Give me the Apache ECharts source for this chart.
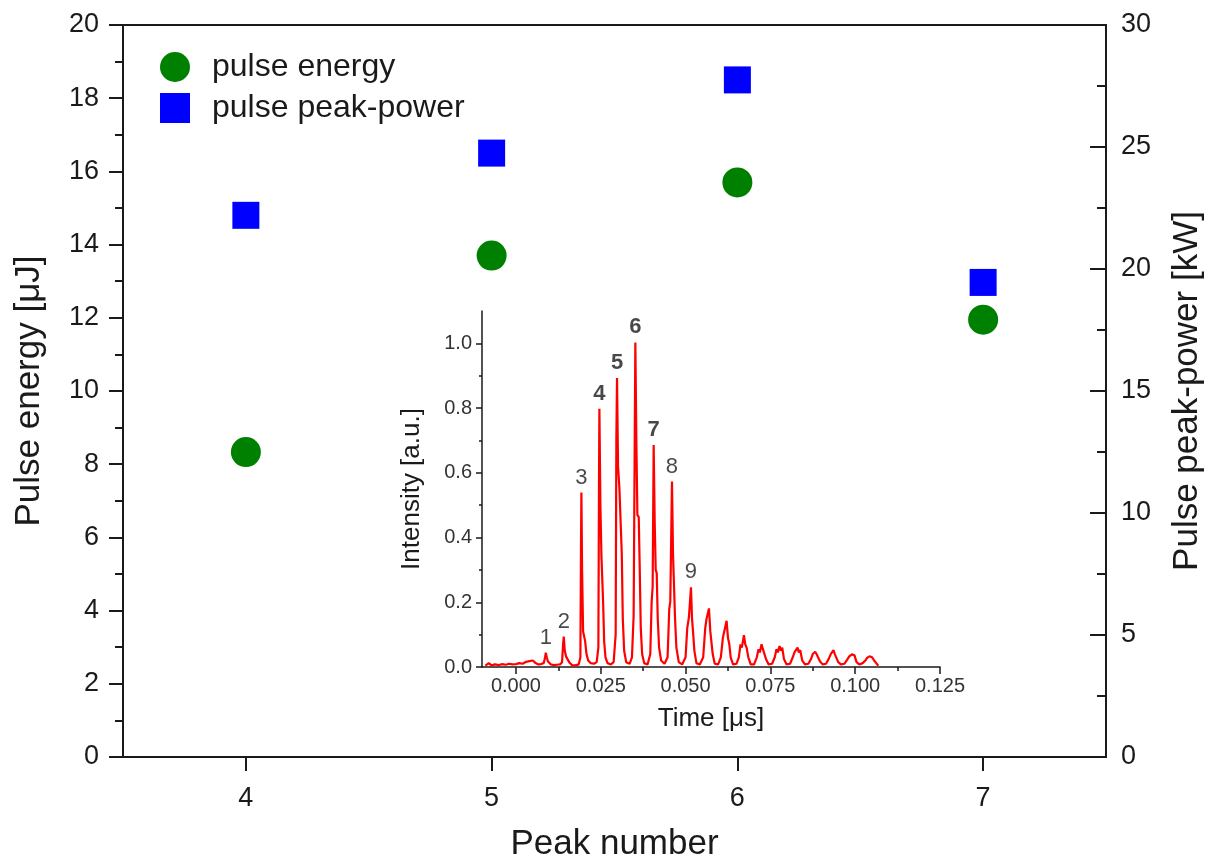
<!DOCTYPE html>
<html>
<head>
<meta charset="utf-8">
<title>Pulse energy and peak power vs peak number</title>
<script src="https://cdn.jsdelivr.net/npm/echarts@6/dist/echarts.min.js"></script>
<style>
  html, body { margin: 0; padding: 0; background: #fff; }
  #chart { width: 1210px; height: 863px; }
</style>
</head>
<body>
<div id="chart"></div>
<script>
// Main plot: pulse energy (left axis) and pulse peak power (right axis) per peak number
const peakNumbers = [4, 5, 6, 7];
const pulseEnergy = [8.33, 13.7, 15.7, 11.95];      // μJ
const pulsePeakPower = [22.2, 24.75, 27.75, 19.45]; // kW

const mainXTicks = [4, 5, 6, 7];

// Inset: intensity trace of the pulse train, [time μs, intensity a.u.]
const intensityTrace = [
  [-0.0090,0.004],[-0.0080,0.012],[-0.0072,0.005],[-0.0062,0.008],[-0.0050,0.006],[-0.0040,0.009],
  [-0.0030,0.007],[-0.0020,0.010],[-0.0010,0.008],[0.0000,0.009],[0.0010,0.012],[0.0020,0.010],
  [0.0030,0.016],[0.0040,0.018],[0.0050,0.020],[0.0058,0.012],[0.0066,0.008],[0.0074,0.009],[0.0082,0.012],
  [0.0086,0.030],[0.0088,0.044],[0.0091,0.030],[0.0094,0.018],[0.0098,0.014],[0.0103,0.008],[0.0110,0.006],
  [0.0120,0.007],[0.0130,0.008],[0.0136,0.015],
  [0.0139,0.070],[0.0141,0.094],[0.0144,0.050],[0.0148,0.032],[0.0152,0.030],[0.0157,0.015],[0.0165,0.006],
  [0.0175,0.005],[0.0185,0.008],[0.0190,0.030],
  [0.0192,0.400],[0.0193,0.539],[0.0195,0.300],[0.0198,0.110],[0.0201,0.105],[0.0204,0.080],[0.0208,0.040],
  [0.0213,0.020],[0.0220,0.012],[0.0230,0.010],[0.0238,0.015],[0.0243,0.060],
  [0.0245,0.600],[0.0246,0.798],[0.0249,0.500],[0.0252,0.345],[0.0255,0.340],[0.0257,0.200],[0.0260,0.080],
  [0.0264,0.030],[0.0270,0.012],[0.0280,0.008],[0.0288,0.015],[0.0294,0.100],
  [0.0296,0.700],[0.0298,0.893],[0.0301,0.620],[0.0305,0.553],[0.0309,0.550],[0.0312,0.350],[0.0315,0.150],
  [0.0319,0.050],[0.0325,0.015],[0.0335,0.010],[0.0342,0.030],[0.0347,0.160],
  [0.0350,0.670],[0.0352,1.003],[0.0355,0.700],[0.0358,0.470],[0.0362,0.463],[0.0365,0.300],[0.0368,0.120],
  [0.0372,0.040],[0.0378,0.012],[0.0388,0.008],[0.0396,0.040],[0.0400,0.200],[0.0403,0.248],
  [0.0406,0.686],[0.0409,0.450],[0.0412,0.300],[0.0415,0.290],[0.0418,0.150],[0.0422,0.060],[0.0428,0.020],
  [0.0438,0.010],[0.0447,0.030],[0.0452,0.180],[0.0455,0.202],
  [0.0460,0.573],[0.0463,0.350],[0.0466,0.250],[0.0469,0.150],[0.0473,0.060],[0.0480,0.015],[0.0490,0.008],
  [0.0500,0.030],[0.0505,0.120],[0.0510,0.155],
  [0.0516,0.246],[0.0519,0.150],[0.0522,0.110],[0.0526,0.050],[0.0532,0.012],[0.0542,0.008],[0.0552,0.030],
  [0.0558,0.120],[0.0562,0.150],
  [0.0569,0.181],[0.0573,0.110],[0.0576,0.080],[0.0580,0.040],[0.0586,0.010],[0.0596,0.008],[0.0604,0.030],
  [0.0610,0.090],[0.0614,0.110],
  [0.0621,0.143],[0.0625,0.090],[0.0629,0.070],[0.0633,0.030],[0.0640,0.008],[0.0650,0.010],[0.0657,0.030],
  [0.0662,0.070],[0.0666,0.060],
  [0.0672,0.098],[0.0676,0.070],[0.0680,0.060],[0.0685,0.030],[0.0692,0.008],[0.0702,0.008],[0.0710,0.030],
  [0.0715,0.055],[0.0719,0.045],
  [0.0724,0.070],[0.0728,0.055],[0.0732,0.060],[0.0737,0.025],[0.0745,0.008],[0.0755,0.010],[0.0763,0.030],
  [0.0768,0.055],[0.0772,0.045],
  [0.0777,0.065],[0.0781,0.050],[0.0785,0.060],[0.0790,0.025],[0.0798,0.008],[0.0808,0.010],[0.0816,0.030],
  [0.0821,0.045],[0.0825,0.040],
  [0.0830,0.060],[0.0834,0.045],[0.0838,0.052],[0.0844,0.020],[0.0852,0.008],[0.0862,0.010],[0.0870,0.025],
  [0.0875,0.040],[0.0879,0.035],
  [0.0882,0.047],[0.0886,0.040],[0.0890,0.044],[0.0896,0.018],[0.0904,0.008],[0.0914,0.010],[0.0922,0.025],
  [0.0928,0.040],[0.0932,0.035],
  [0.0936,0.052],[0.0940,0.040],[0.0944,0.042],[0.0950,0.015],[0.0958,0.008],[0.0968,0.010],[0.0976,0.022],
  [0.0982,0.032],[0.0986,0.030],
  [0.0990,0.039],[0.0994,0.035],[0.0998,0.036],[0.1004,0.015],[0.1012,0.008],[0.1022,0.012],[0.1030,0.020],
  [0.1035,0.028],[0.1039,0.025],
  [0.1042,0.033],[0.1046,0.028],[0.1050,0.030],[0.1056,0.020],[0.1062,0.012],[0.1068,0.004]
];

// Numbered peaks of the trace (bold ones are the peaks plotted in the main chart)
const peakLabels = ['1', '2', '3', '4', '5', '6', '7', '8', '9'];
const peakTimes  = [0.0088, 0.0141, 0.0193, 0.0246, 0.0298, 0.0352, 0.0406, 0.0460, 0.0516];
const peakValues = [0.044, 0.094, 0.539, 0.798, 0.893, 1.003, 0.686, 0.573, 0.246];
const peakBold   = [false, false, false, true, true, true, true, false, false];

const insetXMajor = [0, 0.025, 0.05, 0.075, 0.1, 0.125];
const insetXMinor = [0.0125, 0.0375, 0.0625, 0.0875, 0.1125];
const insetYMajor = [0, 0.2, 0.4, 0.6, 0.8, 1.0];
const insetYMinor = [0.1, 0.3, 0.5, 0.7, 0.9];

const FONT = '"Liberation Sans", Arial, Helvetica, sans-serif';
const INK = '#1a1a1a';

const chart = echarts.init(document.getElementById('chart'), null, { renderer: 'canvas' });

const axisLine = { show: true, onZero: false, lineStyle: { color: INK, width: 2 } };

chart.setOption({
  animation: false,
  backgroundColor: '#ffffff',
  textStyle: { fontFamily: FONT, color: INK },
  grid: [
    { left: 123, top: 25, right: 104, bottom: 106, show: true, borderColor: INK, borderWidth: 2,
      containLabel: false, outerBoundsMode: 'none' },
    { left: 482, top: 311, right: 270, bottom: 196, containLabel: false, outerBoundsMode: 'none' }
  ],
  legend: {
    orient: 'vertical',
    left: 155,
    top: 46,
    itemWidth: 30,
    itemHeight: 30,
    itemGap: 9,
    textStyle: { fontFamily: FONT, fontSize: 32, color: INK, padding: [0, 0, 0, 17] },
    data: [
      { name: 'pulse energy', icon: 'circle' },
      { name: 'pulse peak-power', icon: 'rect' }
    ]
  },
  xAxis: [
    {
      type: 'value', gridIndex: 0, min: 3.5, max: 7.5, position: 'bottom',
      name: 'Peak number', nameLocation: 'middle', nameGap: 70,
      nameTextStyle: { fontSize: 35, color: INK, fontFamily: FONT },
      axisLine: axisLine,
      axisTick: { show: true, length: 14, lineStyle: { color: INK, width: 2 }, customValues: mainXTicks },
      axisLabel: { fontSize: 27, color: INK, margin: 28, customValues: mainXTicks },
      splitLine: { show: false }
    },
    {
      type: 'value', gridIndex: 1, min: -0.01, max: 0.125, position: 'bottom',
      name: 'Time [μs]', nameLocation: 'middle', nameGap: 39,
      nameTextStyle: { fontSize: 26, color: INK, fontFamily: FONT },
      axisLine: { show: true, onZero: false, lineStyle: { color: INK, width: 1.5 } },
      axisTick: { show: true, length: 7, lineStyle: { color: INK, width: 1.5 }, customValues: insetXMajor },
      axisLabel: { fontSize: 20, color: '#333', margin: 9, customValues: insetXMajor,
        formatter: v => v.toFixed(3) },
      splitLine: { show: false }
    },
    {
      // minor ticks of the inset time axis
      type: 'value', gridIndex: 1, min: -0.01, max: 0.125, position: 'bottom',
      axisLine: { show: false, onZero: false },
      axisTick: { show: true, length: 4, lineStyle: { color: INK, width: 1.5 }, customValues: insetXMinor },
      axisLabel: { show: false, customValues: insetXMinor },
      splitLine: { show: false }
    }
  ],
  yAxis: [
    {
      type: 'value', gridIndex: 0, min: 0, max: 20, interval: 2, position: 'left',
      name: 'Pulse energy [μJ]', nameLocation: 'middle', nameGap: 76,
      nameTextStyle: { fontSize: 35, color: INK, fontFamily: FONT },
      axisLine: axisLine,
      axisTick: { show: true, length: 14, lineStyle: { color: INK, width: 2 } },
      minorTick: { show: true, splitNumber: 2, length: 8, lineStyle: { color: INK, width: 2 } },
      axisLabel: { fontSize: 27, color: INK, margin: 24 },
      splitLine: { show: false }
    },
    {
      type: 'value', gridIndex: 0, min: 0, max: 30, interval: 5, position: 'right',
      name: 'Pulse peak-power [kW]', nameLocation: 'middle', nameGap: 64,
      nameTextStyle: { fontSize: 35, color: INK, fontFamily: FONT },
      axisLine: axisLine,
      axisTick: { show: true, inside: true, length: 16, lineStyle: { color: INK, width: 2 } },
      minorTick: { show: true, splitNumber: 2, length: 9, lineStyle: { color: INK, width: 2 } },
      axisLabel: { fontSize: 27, color: INK, margin: 15 },
      splitLine: { show: false }
    },
    {
      type: 'value', gridIndex: 1, min: 0, max: 1.1, position: 'left',
      name: 'Intensity [a.u.]', nameLocation: 'middle', nameGap: 57,
      nameTextStyle: { fontSize: 26, color: INK, fontFamily: FONT },
      axisLine: { show: true, onZero: false, lineStyle: { color: INK, width: 1.5 } },
      axisTick: { show: true, length: 6, lineStyle: { color: INK, width: 1.5 }, customValues: insetYMajor },
      axisLabel: { fontSize: 20, color: '#333', margin: 10, customValues: insetYMajor,
        formatter: v => v.toFixed(1) },
      splitLine: { show: false }
    },
    {
      // minor ticks of the inset intensity axis
      type: 'value', gridIndex: 1, min: 0, max: 1.1, position: 'left',
      axisLine: { show: false, onZero: false },
      axisTick: { show: true, length: 3, lineStyle: { color: INK, width: 1.5 }, customValues: insetYMinor },
      axisLabel: { show: false, customValues: insetYMinor },
      splitLine: { show: false }
    }
  ],
  series: [
    {
      name: 'pulse energy', type: 'scatter', xAxisIndex: 0, yAxisIndex: 0,
      symbol: 'circle', symbolSize: 30,
      itemStyle: { color: '#008000', opacity: 1 },
      data: peakNumbers.map((n, i) => [n, pulseEnergy[i]]),
      z: 3
    },
    {
      name: 'pulse peak-power', type: 'scatter', xAxisIndex: 0, yAxisIndex: 1,
      symbol: 'rect', symbolSize: 27,
      itemStyle: { color: '#0000ff', opacity: 1 },
      data: peakNumbers.map((n, i) => [n, pulsePeakPower[i]]),
      z: 3
    },
    {
      name: 'intensity', type: 'line', xAxisIndex: 1, yAxisIndex: 2,
      showSymbol: false, symbol: 'none',
      lineStyle: { color: '#ff0000', width: 2.2 },
      data: intensityTrace,
      z: 4
    },
    {
      name: 'peak labels', type: 'scatter', xAxisIndex: 1, yAxisIndex: 2,
      symbolSize: 0, silent: true,
      data: peakLabels.map((lab, i) => ({
        name: lab,
        value: [peakTimes[i], peakValues[i]],
        label: { fontWeight: peakBold[i] ? 'bold' : 'normal' }
      })),
      label: {
        show: true, position: 'top', distance: 4,
        formatter: p => p.name,
        fontSize: 22, color: INK, fontFamily: FONT
      },
      z: 5
    }
  ]
});
</script>
</body>
</html>
